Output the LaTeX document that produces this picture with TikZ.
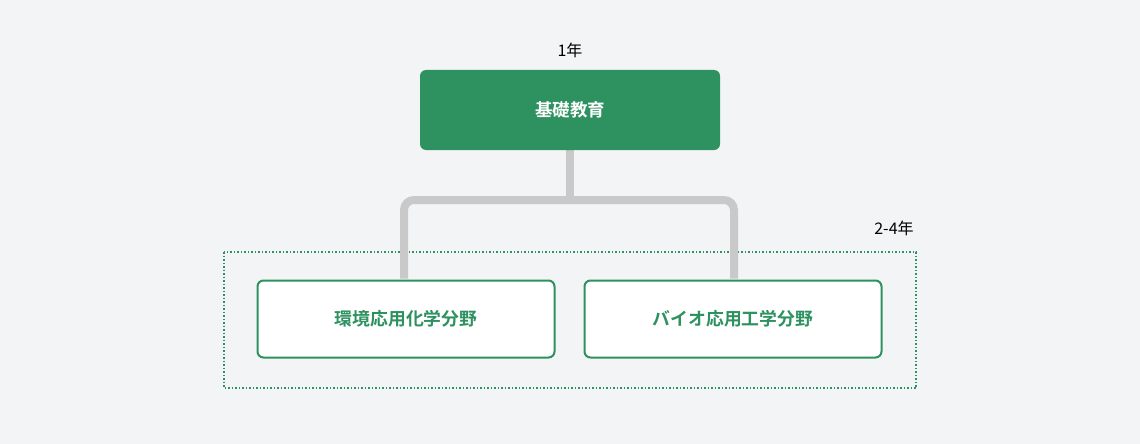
\documentclass[tikz,border=0pt]{standalone}
\usepackage{fontspec}
\usetikzlibrary{backgrounds}
\setmainfont{Noto Sans CJK JP}[BoldFont={Noto Sans CJK JP Bold}]
\definecolor{bgc}{HTML}{F3F4F6}
\definecolor{grn}{HTML}{2E9160}
\definecolor{linec}{HTML}{C8C9C8}
\tikzset{
  topbox/.style={draw=none,fill=grn,rounded corners=6pt,minimum width=300pt,minimum height=80pt,text=white,font=\fontsize{17.5}{20}\selectfont\bfseries,inner sep=0pt},
  fieldbox/.style={draw=grn,line width=2pt,fill=white,rounded corners=6pt,minimum width=297pt,minimum height=77pt,text=grn,font=\fontsize{17.8}{20}\selectfont\bfseries,inner sep=0pt},
  yearlbl/.style={font=\fontsize{16}{19}\selectfont,text=black,inner sep=0pt},
  conn/.style={draw=linec,line width=8pt,rounded corners=10pt},
  groupbox/.style={draw=grn,line width=1.5pt,dash pattern=on 1.5pt off 2pt}
}
\begin{document}
\begin{tikzpicture}[x=1pt,y=-1pt]
\useasboundingbox (0,0) rectangle (1140,444);
\node[yearlbl] (y1) at (570,50) {1年};
\node[yearlbl] (y2) at (894,228) {2-4年};
\node[fieldbox] (left) at (406,319) {環境応用化学分野};
\node[fieldbox] (right) at (733,319) {バイオ応用工学分野};
\node[topbox] (top) at (570,110) {基礎教育};
\coordinate (j) at (570,200);
\coordinate (jl) at (404,200);
\coordinate (jr) at (734,200);
\begin{scope}[on background layer]
\fill[bgc] (0,0) rectangle (1140,444);
\draw[groupbox] (224,252) rectangle (916,388);
\draw[conn] (top.south) -- (j);
\draw[conn] ([yshift=1pt]left.north -| jl) -- (jl) -- (jr) -- ([yshift=1pt]right.north -| jr);
\end{scope}
\end{tikzpicture}
\end{document}
